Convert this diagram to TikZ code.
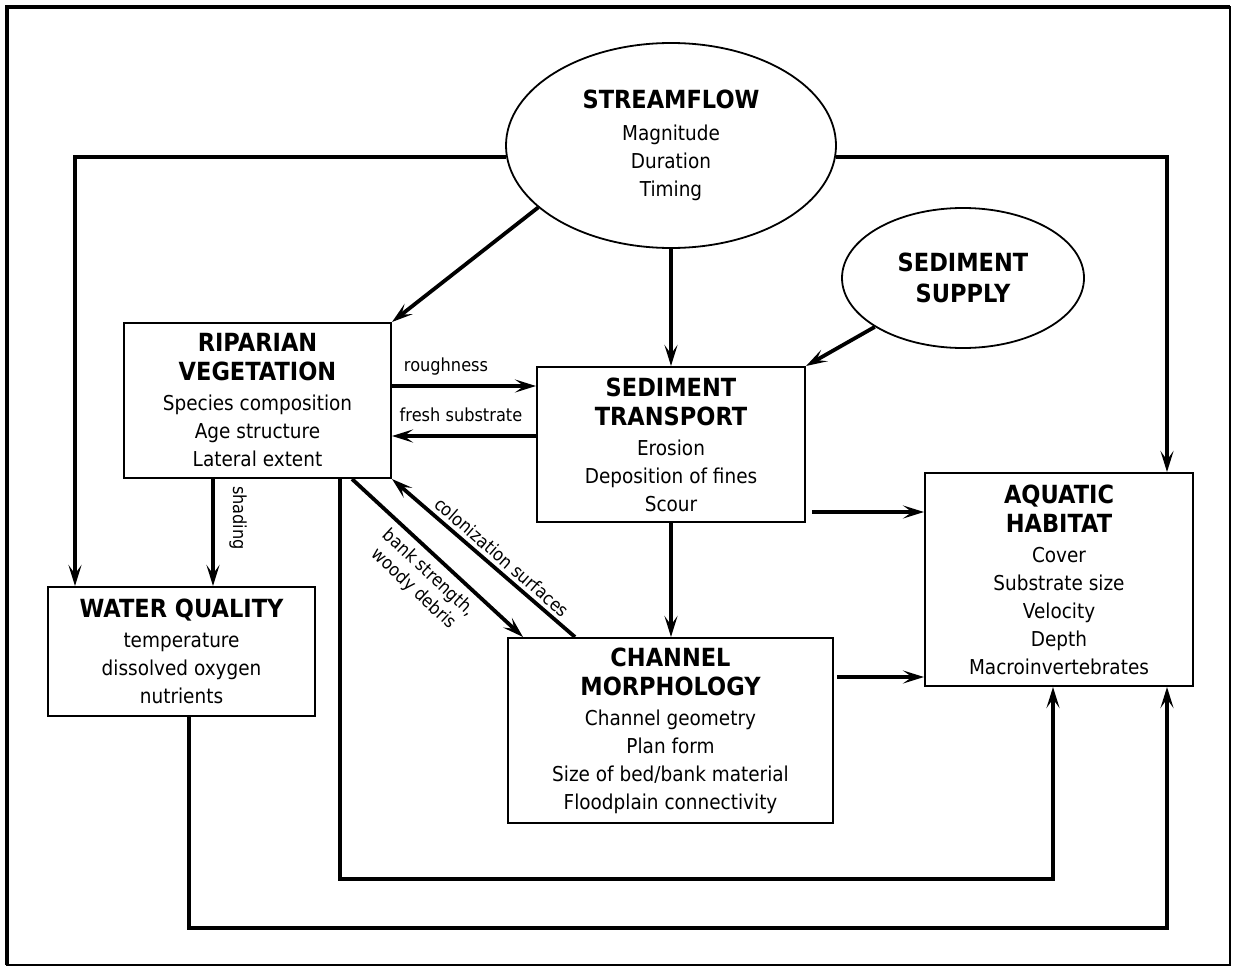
\documentclass[tikz,border=0pt]{standalone}
\usepackage{fontspec}
\setmainfont{DejaVu Sans}[FakeStretch=0.9]
\usetikzlibrary{shapes.geometric,arrows.meta}
\newcommand\bodyfont{\fontsize{20.5}{28}\selectfont}
\newcommand\ttlfont{\fontsize{25}{29}\selectfont\bfseries}
\newcommand\lblfont{\fontsize{18}{22}\selectfont}
\tikzset{
  box/.style={draw, line width=2pt, rectangle, inner sep=0pt, align=center, font=\bodyfont},
  oval/.style={draw, line width=1.8pt, ellipse, inner sep=0pt, align=center, font=\bodyfont},
  conn/.style={line width=3.8pt, -{Stealth[length=21pt,width=13pt,inset=9pt]}},
  lbl/.style={font=\lblfont, inner sep=0pt, align=center},
}
\begin{document}
\begin{tikzpicture}[x=1pt,y=-1pt]
\useasboundingbox (0,0) rectangle (1233,966);
\fill[white] (0,0) rectangle (1233,966);
% frame
\draw[line width=1.8pt] (7,7) rectangle (1230,965);
\draw[line width=4pt] (7,965) -- (7,7) -- (1230,7);

% nodes
\node[oval, minimum width=330, minimum height=205] (sf) at (671,145.5)
  {{\ttlfont STREAMFLOW}\\[4pt]Magnitude\\Duration\\Timing};
\node[oval, minimum width=242, minimum height=140] (ss) at (963,278)
  {{\ttlfont SEDIMENT}\\[3pt]{\ttlfont SUPPLY}};
\node[box, minimum width=267, minimum height=155] (rip) at (257.5,400.5)
  {{\ttlfont RIPARIAN}\\[1pt]{\ttlfont VEGETATION}\\[2pt]Species composition\\Age structure\\Lateral extent};
\node[box, minimum width=268, minimum height=155] (st) at (671,444.5)
  {{\ttlfont SEDIMENT}\\[1pt]{\ttlfont TRANSPORT}\\[2pt]Erosion\\Deposition of fines\\Scour};
\node[box, minimum width=267, minimum height=129] (wq) at (181.5,651.5)
  {{\ttlfont WATER QUALITY}\\[2pt]temperature\\dissolved oxygen\\nutrients};
\node[box, minimum width=325, minimum height=185] (ch) at (670.5,730.5)
  {{\ttlfont CHANNEL}\\[1pt]{\ttlfont MORPHOLOGY}\\[2pt]Channel geometry\\Plan form\\Size of bed/bank material\\Floodplain connectivity};
\node[box, minimum width=268, minimum height=213] (aq) at (1059,579.5)
  {{\ttlfont AQUATIC}\\[1pt]{\ttlfont HABITAT}\\[2pt]Cover\\Substrate size\\Velocity\\Depth\\Macroinvertebrates};

% connectors
\draw[conn] (sf.205) -- (rip.north east);
\draw[conn] (sf.south) -- (st.north);
\draw[conn] (ss.209) -- (st.north east);
\draw[conn] (sf.184.4) -| (wq.north -| 75,0);
\draw[conn] (sf.-4.4) -| (aq.north -| 1167,0);

\draw[conn] (rip.east |- 0,386) -- (st.west |- 0,386);
\draw[conn] (st.west |- 0,436) -- (rip.east |- 0,436);
\node[lbl] (lrough) at (446,367) {roughness};
\node[lbl] (lfresh) at (461,415) {fresh substrate};

\draw[conn, shorten <=6pt] (st.east |- 0,512) -- (aq.west |- 0,512);
\draw[conn, shorten <=3pt] (ch.east |- 0,677) -- (aq.west |- 0,677);
\draw[conn] (st.south) -- (st.south |- ch.north);

\draw[conn] (rip.south -| 213,0) -- (wq.north -| 213,0);
\node[lbl, rotate=-90] (lshade) at (238,518) {shading};

\draw[conn] (rip.south -| 352,0) -- (ch.north -| 523,0);
\draw[conn] (ch.north -| 575,0) -- (rip.south east);
\node[lbl, rotate=-43] (lbank) at (421,581) {bank strength,\\woody debris};
\node[lbl, rotate=-41] (lcol) at (502,557) {colonization surfaces};

\draw[conn] (rip.south -| 340,0) -- (340,879) -| (aq.south -| 1053,0);
\draw[conn] (wq.south -| 189,0) -- (189,928) -| (aq.south -| 1167,0);
\end{tikzpicture}
\end{document}
